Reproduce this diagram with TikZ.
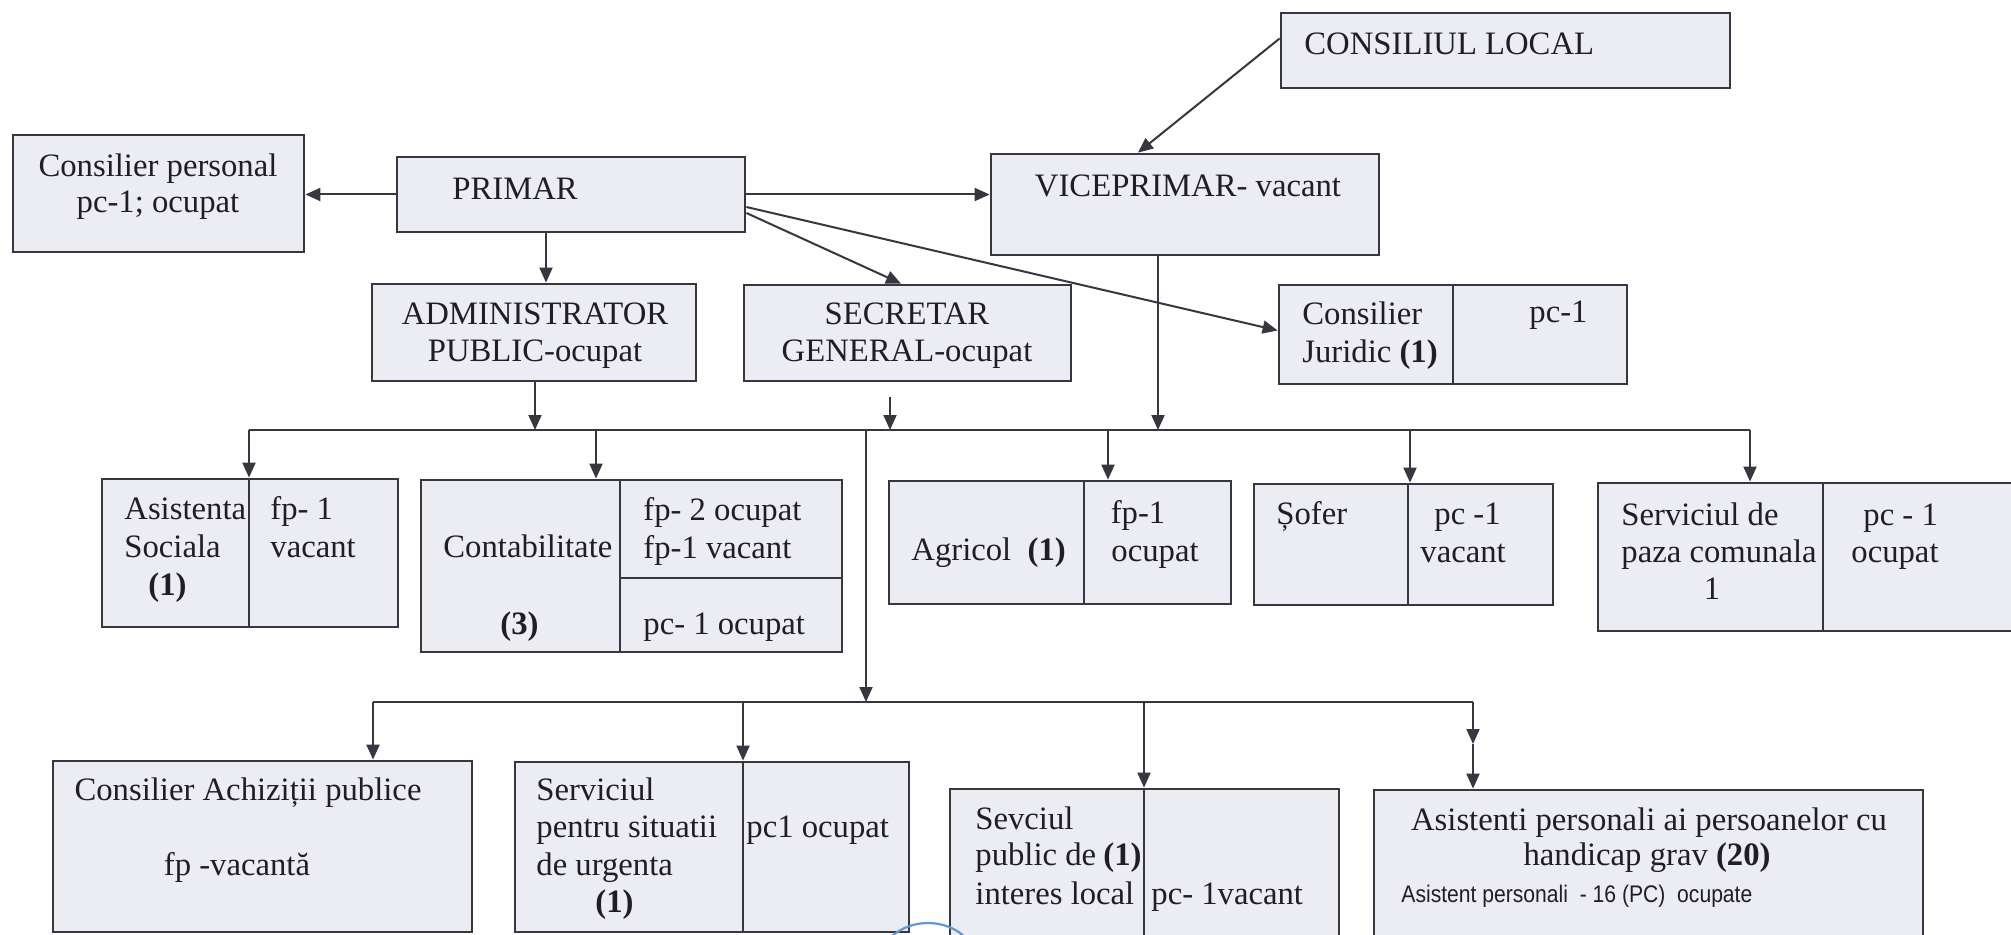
\documentclass[tikz,border=0pt]{standalone}
\usepackage{fontspec}
\setmainfont{Liberation Serif}
\newfontfamily\narrowsans[FakeStretch=0.88]{Liberation Sans}
\usetikzlibrary{arrows.meta,fit}
\definecolor{ln}{RGB}{55,55,66}
\definecolor{bxfill}{RGB}{236,237,242}
\definecolor{tx}{RGB}{30,30,36}
\definecolor{stampblue}{RGB}{95,150,220}
\begin{document}
\begin{tikzpicture}[x=0.5pt,y=-0.5pt,
  box/.style={draw=ln, line width=1.4pt, fill=bxfill, inner sep=0pt},
  div/.style={draw=ln, line width=1.1pt},
  conn/.style={draw=ln, line width=1pt},
  arr/.style={conn, -{Triangle[length=7.5pt,width=6.5pt]}},
  txt/.style={text=tx, inner sep=0pt, font=\fontsize{16.35}{19}\selectfont},
  smalltxt/.style={text=tx, inner sep=0pt, font=\narrowsans\fontsize{12}{14}\selectfont}]
\clip (0,0) rectangle (2011,935);
\fill[white] (0,0) rectangle (2011,935);

% ---------- boxes ----------
\node[box, fit={(1281,13) (1730,88)}] (CL) {};
\node[box, fit={(991,154) (1379,255)}] (VP) {};
\node[box, fit={(13,135) (304,252)}] (CP) {};
\node[box, fit={(397,157) (745,232)}] (PR) {};
\node[box, fit={(372,284) (696,381)}] (AD) {};
\node[box, fit={(744,285) (1071,381)}] (SG) {};
\node[box, fit={(1279,285) (1627,384)}] (CJ) {};
\node[box, fit={(102,479) (398,627)}] (AS) {};
\node[box, fit={(421,480) (842,652)}] (CO) {};
\node[box, fit={(889,481) (1231,604)}] (AG) {};
\node[box, fit={(1254,484) (1553,605)}] (SO) {};
\node[box, fit={(1598,483) (2040,631)}] (SP) {};
\node[box, fit={(53,761) (472,932)}] (CA) {};
\node[box, fit={(515,762) (909,932)}] (SU) {};
\node[box, fit={(950,789) (1339,950)}] (SL) {};
\node[box, fit={(1374,790) (1923,950)}] (AP) {};

% ---------- cell dividers ----------
\draw[div] (1453,285) -- (1453,384);
\draw[div] (249,479) -- (249,627);
\draw[div] (620,480) -- (620,652);
\draw[div] (620,578) -- (842,578);
\draw[div] (1084,481) -- (1084,604);
\draw[div] (1408,484) -- (1408,605);
\draw[div] (1823,483) -- (1823,631);
\draw[div] (743,762) -- (743,932);
\draw[div] (1144,789) -- (1144,950);

% ---------- stamp fragment ----------
\draw[stampblue, line width=1.1pt] (928,966) ellipse [x radius=25pt, y radius=21.5pt];

% ---------- coordinates ----------
\coordinate (xa) at (546,0);
\coordinate (xsg) at (901,0);
\coordinate (xvp) at (1138,0);
\coordinate (b1L) at (249,430);
\coordinate (b1R) at (1750,430);
\coordinate (b1ad) at (535,430);
\coordinate (b1sg) at (890,430);
\coordinate (sgs) at (890,397);
\coordinate (b1vp) at (1158,430);
\coordinate (b1co) at (596,430);
\coordinate (b1mid) at (866,430);
\coordinate (b1ag) at (1108,430);
\coordinate (b1so) at (1410,430);
\coordinate (b2mid) at (866,702);
\coordinate (b2L) at (373,702);
\coordinate (b2su) at (743,702);
\coordinate (b2sl) at (1144,702);
\coordinate (b2R) at (1473,702);
\coordinate (b2Rm) at (1473,744);

% ---------- connectors ----------
\draw[arr] ([yshift=6pt]CL.west) -- (VP.north -| xvp);
\draw[arr] (PR.west) -- (PR.west -| CP.east);
\draw[arr] (PR.east) -- (PR.east -| VP.west);
\draw[arr] (PR.south -| xa) -- (AD.north -| xa);
\draw[arr] ([yshift=-9.25pt]PR.east) -- (SG.north -| xsg);
\draw[arr] ([yshift=-6.25pt]PR.east) -- ([yshift=2pt]CJ.west);
\draw[arr] (AD.south -| b1ad) -- (b1ad);
\draw[arr] (sgs) -- (b1sg);
\draw[arr] (VP.south -| b1vp) -- (b1vp);
\draw[conn] (b1L) -- (b1R);
\draw[arr] (b1L) -- (AS.north -| b1L);
\draw[arr] (b1co) -- (CO.north -| b1co);
\draw[arr] (b1mid) -- (b2mid);
\draw[arr] (b1ag) -- (AG.north -| b1ag);
\draw[arr] (b1so) -- (SO.north -| b1so);
\draw[arr] (b1R) -- (SP.north -| b1R);
\draw[conn] (b2L) -- (b2R);
\draw[arr] (b2L) -- (CA.north -| b2L);
\draw[arr] (b2su) -- (SU.north -| b2su);
\draw[arr] (b2sl) -- (SL.north -| b2sl);
\draw[arr] (b2R) -- (b2Rm);
\draw[arr] (b2Rm) -- (AP.north -| b2Rm);

% ---------- texts ----------
\node[txt, anchor=base west] (tCL) at (1304,55) {CONSILIUL LOCAL};
\node[txt, anchor=base] (tVP) at (1188,197) {VICEPRIMAR- vacant};
\node[txt, anchor=base west] (tPR) at (452,200) {PRIMAR};
\node[txt, anchor=base] (tCP1) at (158,177) {Consilier personal};
\node[txt, anchor=base] (tCP2) at (158,213) {pc-1; ocupat};
\node[txt, anchor=base] (tAD1) at (535,325) {ADMINISTRATOR};
\node[txt, anchor=base] (tAD2) at (535,362) {PUBLIC-ocupat};
\node[txt, anchor=base] (tSG1) at (907,325) {SECRETAR};
\node[txt, anchor=base] (tSG2) at (907,362) {GENERAL-ocupat};
\node[txt, anchor=base west] (tCJ1) at (1302,325) {Consilier};
\node[txt, anchor=base west] (tCJ2) at (1302,363) {Juridic \textbf{(1)}};
\node[txt, anchor=base west] (tCJ3) at (1529,323) {pc-1};

\node[txt, anchor=base west] (tAS1) at (124,519) {Asistenta};
\node[txt, anchor=base west] (tAS2) at (124,557) {Sociala};
\node[txt, anchor=base west] (tAS3) at (148,595) {\textbf{(1)}};
\node[txt, anchor=base west] (tAS4) at (270,519) {fp- 1};
\node[txt, anchor=base west] (tAS5) at (270,557) {vacant};

\node[txt, anchor=base west] (tCO1) at (443,557) {Contabilitate};
\node[txt, anchor=base west] (tCO2) at (500,634) {\textbf{(3)}};
\node[txt, anchor=base west] (tCO3) at (643,520) {fp- 2 ocupat};
\node[txt, anchor=base west] (tCO4) at (643,558) {fp-1 vacant};
\node[txt, anchor=base west] (tCO5) at (643,634) {pc- 1 ocupat};

\node[txt, anchor=base west] (tAG1) at (911,560) {Agricol\ \ \textbf{(1)}};
\node[txt, anchor=base] (tAG2) at (1138,523) {fp-1};
\node[txt, anchor=base] (tAG3) at (1155,561) {ocupat};

\node[txt, anchor=base west] (tSO1) at (1276,524) {Șofer};
\node[txt, anchor=base west] (tSO2) at (1434,524) {pc -1};
\node[txt, anchor=base west] (tSO3) at (1420,562) {vacant};

\node[txt, anchor=base west] (tSP1) at (1621,525) {Serviciul de};
\node[txt, anchor=base west] (tSP2) at (1621,562) {paza comunala};
\node[txt, anchor=base] (tSP3) at (1712,599) {1};
\node[txt, anchor=base west] (tSP4) at (1863,525) {pc - 1};
\node[txt, anchor=base west] (tSP5) at (1851,562) {ocupat};

\node[txt, anchor=base] (tCA1) at (248,800) {Consilier Achiziții publice};
\node[txt, anchor=base] (tCA2) at (237,875) {fp -vacantă};

\node[txt, anchor=base west] (tSU1) at (536,800) {Serviciul};
\node[txt, anchor=base west] (tSU2) at (536,837) {pentru situatii};
\node[txt, anchor=base west] (tSU3) at (536,875) {de urgenta};
\node[txt, anchor=base west] (tSU4) at (595,912) {\textbf{(1)}};
\node[txt, anchor=base west] (tSU5) at (746,837) {pc1 ocupat};

\node[txt, anchor=base west] (tSL1) at (975,829) {Sevciul};
\node[txt, anchor=base west] (tSL2) at (975,865) {public de};
\node[txt, anchor=base east] (tSL3) at (1142,865) {\textbf{(1)}};
\node[txt, anchor=base west] (tSL4) at (975,904) {interes local};
\node[txt, anchor=base west] (tSL5) at (1151,904) {pc- 1vacant};

\node[txt, anchor=base] (tAP1) at (1649,830) {Asistenti personali ai persoanelor cu};
\node[txt, anchor=base] (tAP2) at (1647,865) {handicap grav \textbf{(20)}};
\node[smalltxt, anchor=base west] (tAP3) at (1401,902) {Asistent personali\ \ - 16 (PC)\ \ ocupate};
\end{tikzpicture}
\end{document}
